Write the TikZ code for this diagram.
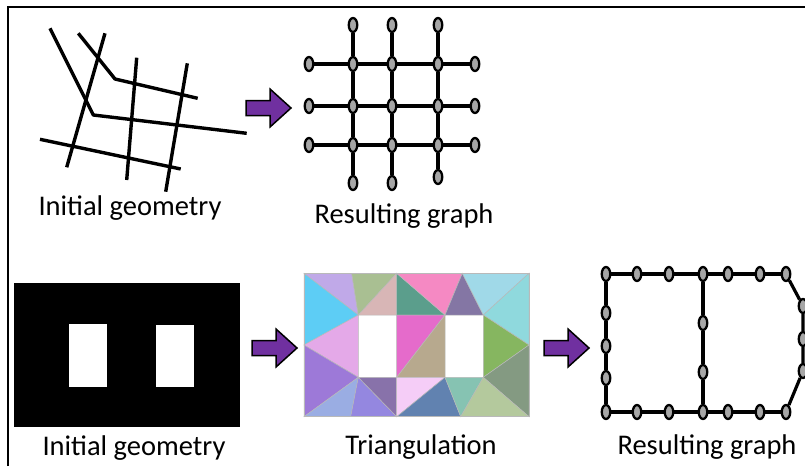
\documentclass[tikz,border=0pt]{standalone}
\usepackage{fontspec}
\setmainfont{Carlito}
\usetikzlibrary{shapes.geometric}
\definecolor{arrowpurple}{HTML}{7030A0}
\definecolor{nodegray}{HTML}{A6A6A6}
\definecolor{c1}{HTML}{C0A9E8}
\definecolor{c2}{HTML}{5DCDF5}
\definecolor{c3}{HTML}{A9BF92}
\definecolor{c4}{HTML}{D8B6B6}
\definecolor{c5}{HTML}{5B9E8C}
\definecolor{c6}{HTML}{F589C3}
\definecolor{c7}{HTML}{8476A4}
\definecolor{c8}{HTML}{A0D9E8}
\definecolor{c9}{HTML}{8FD9DD}
\definecolor{c10}{HTML}{E4A9E8}
\definecolor{c11}{HTML}{E56BCB}
\definecolor{c12}{HTML}{B7A98E}
\definecolor{c13}{HTML}{86B660}
\definecolor{c14}{HTML}{849A82}
\definecolor{c15}{HTML}{9D79D8}
\definecolor{c16}{HTML}{9AADE3}
\definecolor{c17}{HTML}{9487E0}
\definecolor{c18}{HTML}{8872AA}
\definecolor{c19}{HTML}{F5CDF7}
\definecolor{c20}{HTML}{6182B0}
\definecolor{c21}{HTML}{86C3B2}
\definecolor{c22}{HTML}{B4C99D}
\begin{document}
\begin{tikzpicture}[x=1pt,y=-1pt,
  street/.style={line width=3.4pt, line join=round},
  gnode/.style={ellipse, draw=black, line width=2.3pt, fill=nodegray, minimum width=8.5pt, minimum height=14pt, inner sep=0pt},
  gedge/.style={line width=3.2pt},
  bigarrow/.style={draw=black, line width=1.5pt, fill=arrowpurple, line join=miter},
  caption/.style={font=\fontsize{28.5}{34}\selectfont, anchor=base, inner sep=0pt},
  tri/.style={draw=gray!55, line width=0.5pt},
  fatarrow/.pic={\draw[bigarrow] (0,-7.5) -- (24,-7.5) -- (24,-19) -- (45,0) -- (24,19) -- (24,7.5) -- (0,7.5) -- cycle;}
]
\useasboundingbox (0,0) rectangle (805,466);
\clip (0,0) rectangle (805,466);
\fill[white] (0,0) rectangle (805,466);
% frame
\draw[line width=2pt] (8.3,466) -- (8.3,7) -- (805,7);

% ---------- top: initial geometry ----------
\draw[street] (50,28.3) -- (93.3,115) -- (246.7,133.3);
\draw[street] (78.3,33.3) -- (115,79) -- (197.7,98.3);
\draw[street] (105,33.3) -- (66.7,167.3);
\draw[street] (136.7,57.7) -- (126.7,180);
\draw[street] (187.3,63.3) -- (165.7,191.7);
\draw[street] (40,139.3) -- (180.7,169);
\node[caption] (cap1) at (130,215) {Initial geometry};

\pic at (246,108) {fatarrow};

% ---------- top: resulting graph ----------
\foreach \c/\x in {1/353,2/392,3/438}
  \foreach \r/\y in {1/64,2/106,3/145}
    \node[gnode] (g\r\c) at (\x,\y) {};
\foreach \r/\y in {1/64,2/106,3/145} {
  \node[gnode] (L\r) at (309,\y) {};
  \node[gnode] (R\r) at (475,\y) {};
}
\foreach \c/\x in {1/353,2/392,3/438}
  \node[gnode] (T\c) at (\x,25) {};
\node[gnode] (B1) at (353,183) {};
\node[gnode] (B2) at (392,183) {};
\node[gnode] (B3) at (438,177) {};
\foreach \r in {1,2,3}
  \draw[gedge] (L\r) -- (g\r1) -- (g\r2) -- (g\r3) -- (R\r);
\foreach \c in {1,2,3}
  \draw[gedge] (T\c) -- (g1\c) -- (g2\c) -- (g3\c) -- (B\c);
\node[caption] (cap2) at (404,223) {Resulting graph};

% ---------- bottom: initial geometry ----------
\fill[black] (14,283) rectangle (240,427);
\fill[white] (69,324) rectangle (107,387);
\fill[white] (156,325) rectangle (194,387);
\node[caption] (cap3) at (134,455) {Initial geometry};

\pic at (252,348) {fatarrow};

% ---------- bottom: triangulation ----------
\filldraw[tri,fill=c1] (304,273.3) -- (351.7,273.3) -- (358.3,315) -- cycle;
\filldraw[tri,fill=c2] (304,273.3) -- (358.3,315) -- (304,345) -- cycle;
\filldraw[tri,fill=c3] (351.7,273.3) -- (396.7,273.3) -- (358.3,315) -- cycle;
\filldraw[tri,fill=c4] (396.7,273.3) -- (358.3,315) -- (396.7,315) -- cycle;
\filldraw[tri,fill=c5] (396.7,273.3) -- (396.7,315) -- (445,315) -- cycle;
\filldraw[tri,fill=c6] (396.7,273.3) -- (462.3,273.3) -- (445,315) -- cycle;
\filldraw[tri,fill=c7] (462.3,273.3) -- (445,315) -- (483.3,315) -- cycle;
\filldraw[tri,fill=c8] (462.3,273.3) -- (529,273.3) -- (483.3,315) -- cycle;
\filldraw[tri,fill=c9] (529,273.3) -- (483.3,315) -- (529,345) -- cycle;
\filldraw[tri,fill=c10] (304,345) -- (358.3,315) -- (358.3,377.3) -- cycle;
\filldraw[tri,fill=c11] (396.7,315) -- (445,315) -- (396.7,377.3) -- cycle;
\filldraw[tri,fill=c12] (445,315) -- (396.7,377.3) -- (445,377.3) -- cycle;
\filldraw[tri,fill=c13] (483.3,315) -- (529,345) -- (483.3,377.3) -- cycle;
\filldraw[tri,fill=c14] (529,345) -- (483.3,377.3) -- (529,416.7) -- cycle;
\filldraw[tri,fill=c15] (304,345) -- (358.3,377.3) -- (304,416.7) -- cycle;
\filldraw[tri,fill=c16] (304,416.7) -- (358.3,377.3) -- (350.7,416.7) -- cycle;
\filldraw[tri,fill=c17] (350.7,416.7) -- (358.3,377.3) -- (396.7,416.7) -- cycle;
\filldraw[tri,fill=c18] (358.3,377.3) -- (396.7,377.3) -- (396.7,416.7) -- cycle;
\filldraw[tri,fill=c19] (396.7,377.3) -- (445,377.3) -- (396.7,416.7) -- cycle;
\filldraw[tri,fill=c20] (396.7,416.7) -- (445,377.3) -- (460.7,416.7) -- cycle;
\filldraw[tri,fill=c21] (445,377.3) -- (483.3,377.3) -- (460.7,416.7) -- cycle;
\filldraw[tri,fill=c22] (460.7,416.7) -- (483.3,377.3) -- (529,416.7) -- cycle;
\draw[tri] (304,273.3) rectangle (529,416.7);
\node[caption] (cap4) at (421,454) {Triangulation};

\pic at (544,348) {fatarrow};

% ---------- bottom: resulting graph ----------
\foreach \i/\x in {1/606,2/637,3/669,4/703,5/728,6/760,7/786} {
  \node[gnode] (t\i) at (\x,274) {};
  \node[gnode] (b\i) at (\x,412) {};
}
\node[gnode] (l1) at (606,313) {};
\node[gnode] (l2) at (606,346) {};
\node[gnode] (l3) at (606,378) {};
\node[gnode] (m1) at (703,323) {};
\node[gnode] (m2) at (703,372) {};
\node[gnode] (r1) at (803,306) {};
\node[gnode] (r2) at (803,339) {};
\node[gnode] (r3) at (803,371) {};
\draw[gedge] (t1) -- (t2) -- (t3) -- (t4) -- (t5) -- (t6) -- (t7);
\draw[gedge] (b1) -- (b2) -- (b3) -- (b4) -- (b5) -- (b6) -- (b7);
\draw[gedge] (t1) -- (l1) -- (l2) -- (l3) -- (b1);
\draw[gedge] (t4) -- (m1) -- (m2) -- (b4);
\draw[gedge] (t7) -- (r1) -- (r2) -- (r3) -- (b7);
\node[caption] (cap5) at (707,454) {Resulting graph};
\end{tikzpicture}
\end{document}
